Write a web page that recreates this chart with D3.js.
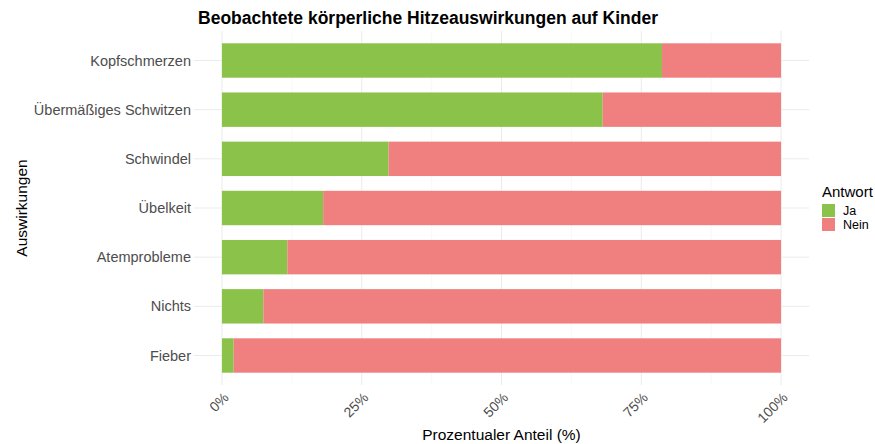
<!DOCTYPE html>
<html>
<head>
<meta charset="utf-8">
<script src="https://cdn.jsdelivr.net/npm/d3@7"></script>
<style>
  body { margin: 0; background: #fff; }
  text { font-family: "Liberation Sans", Arial, sans-serif; }
</style>
</head>
<body>
<svg width="875" height="444"></svg>
<script>
const svg = d3.select('svg')

// data: share of answers per effect, in percent
const effects = ['Kopfschmerzen', 'Übermäßiges Schwitzen', 'Schwindel', 'Übelkeit', 'Atemprobleme', 'Nichts', 'Fieber']
const ja = [78.7, 68.1, 29.8, 18.1, 11.7, 7.4, 2.1]
const nein = [21.3, 31.9, 70.2, 81.9, 88.3, 92.6, 97.9]
const answers = ['Ja', 'Nein']
const colors = ['#8bc34a', '#f08080']
const ticks = [0, 25, 50, 75, 100]
const minorTicks = [12.5, 37.5, 62.5, 87.5]

const panel = { left: 194, right: 809, top: 31, bottom: 385 }

const x = d3.scaleLinear()
	.domain([-5, 105])
	.range([panel.left, panel.right])

const y = d3.scaleBand()
	.domain(effects)
	.range([panel.top, panel.bottom])
	.paddingInner(0.3)
	.paddingOuter(0.25)

const color = d3.scaleOrdinal()
	.domain(answers)
	.range(colors)

const rows = effects.map((e, i) => ({ effect: e, Ja: ja[i], Nein: nein[i] }))
const stacked = d3.stack().keys(answers)(rows)

// grid
const grid = svg.append('g')
grid.selectAll('.minor')
	.data(minorTicks)
	.enter()
	.append('line')
	.attr('x1', d => x(d)).attr('x2', d => x(d))
	.attr('y1', panel.top).attr('y2', panel.bottom)
	.attr('stroke', '#f4f4f4')
	.attr('stroke-width', 0.6)
grid.selectAll('.vmajor')
	.data(ticks)
	.enter()
	.append('line')
	.attr('x1', d => x(d)).attr('x2', d => x(d))
	.attr('y1', panel.top).attr('y2', panel.bottom)
	.attr('stroke', '#ebebeb')
	.attr('stroke-width', 1)
grid.selectAll('.hmajor')
	.data(effects)
	.enter()
	.append('line')
	.attr('x1', panel.left).attr('x2', panel.right)
	.attr('y1', d => y(d) + y.bandwidth() / 2)
	.attr('y2', d => y(d) + y.bandwidth() / 2)
	.attr('stroke', '#ebebeb')
	.attr('stroke-width', 1)

// bars
svg.append('g')
	.selectAll('g')
	.data(stacked)
	.enter()
	.append('g')
	.attr('fill', d => color(d.key))
	.selectAll('rect')
	.data(d => d)
	.enter()
	.append('rect')
	.attr('x', d => x(d[0]))
	.attr('width', d => x(d[1]) - x(d[0]))
	.attr('y', d => y(d.data.effect))
	.attr('height', y.bandwidth())

// y axis labels
svg.append('g')
	.selectAll('text')
	.data(effects)
	.enter()
	.append('text')
	.attr('x', panel.left - 3)
	.attr('y', d => y(d) + y.bandwidth() / 2)
	.attr('dy', '0.35em')
	.attr('text-anchor', 'end')
	.attr('fill', '#4d4d4d')
	.style('font-size', '14.5px')
	.text(d => d)

// x axis labels
svg.append('g')
	.selectAll('text')
	.data(ticks)
	.enter()
	.append('text')
	.attr('transform', d => `translate(${x(d) + 7.5},${panel.bottom + 13.5}) rotate(-45)`)
	.attr('text-anchor', 'end')
	.attr('fill', '#4d4d4d')
	.style('font-size', '14px')
	.text(d => d + '%')

// titles
svg.append('text')
	.attr('x', 428)
	.attr('y', 24)
	.attr('text-anchor', 'middle')
	.style('font-size', '17.5px')
	.style('font-weight', 'bold')
	.text('Beobachtete körperliche Hitzeauswirkungen auf Kinder')

svg.append('text')
	.attr('x', (panel.left + panel.right) / 2)
	.attr('y', 440)
	.attr('text-anchor', 'middle')
	.style('font-size', '15.5px')
	.text('Prozentualer Anteil (%)')

svg.append('text')
	.attr('transform', `translate(27,${(panel.top + panel.bottom) / 2}) rotate(-90)`)
	.attr('text-anchor', 'middle')
	.style('font-size', '15.5px')
	.text('Auswirkungen')

// legend
const legend = svg.append('g').attr('transform', 'translate(822,0)')
legend.append('text')
	.attr('x', 0)
	.attr('y', 197)
	.style('font-size', '15px')
	.text('Antwort')
const item = legend.selectAll('.item')
	.data(answers)
	.enter()
	.append('g')
	.attr('transform', (d, i) => `translate(0,${204 + i * 14})`)
item.append('rect')
	.attr('width', 13)
	.attr('height', 13)
	.attr('fill', d => color(d))
item.append('text')
	.attr('x', 21)
	.attr('y', 7)
	.attr('dy', '0.35em')
	.style('font-size', '12.5px')
	.text(d => d)
</script>
</body>
</html>
